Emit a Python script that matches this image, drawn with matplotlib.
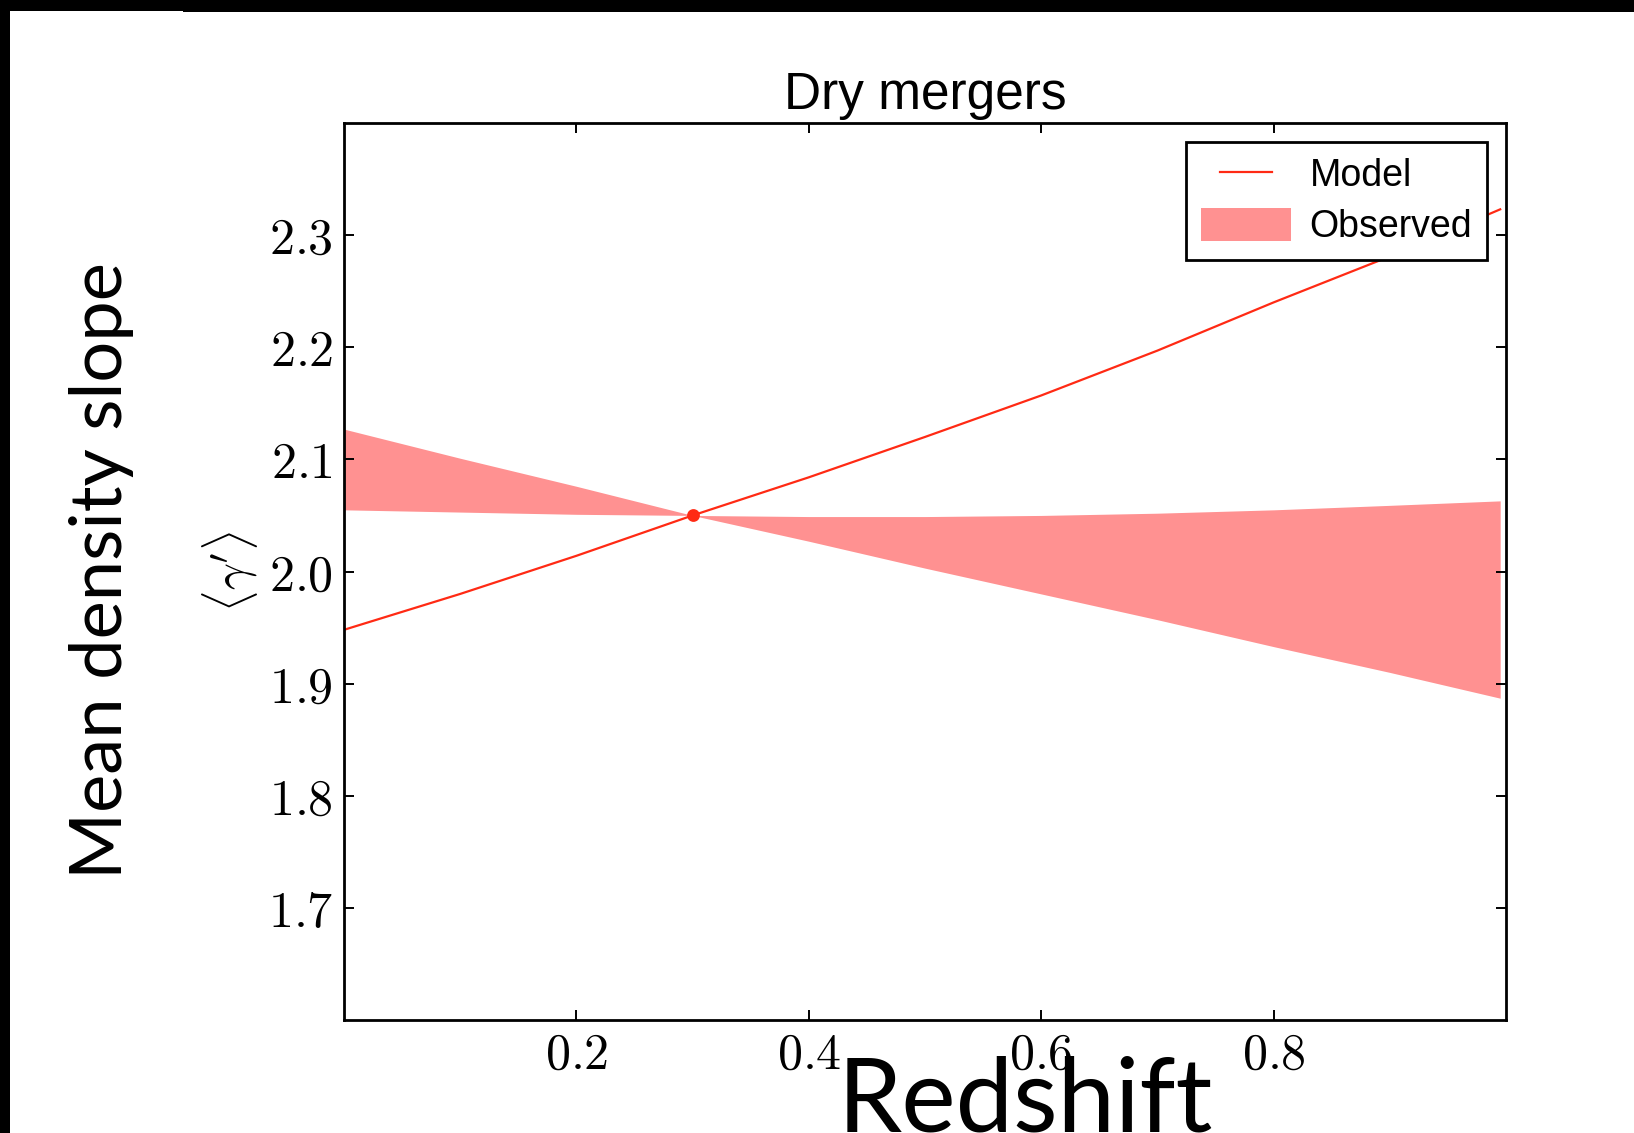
import matplotlib
matplotlib.use("Agg")
import matplotlib.pyplot as plt
from matplotlib.patches import Rectangle
from matplotlib.lines import Line2D
from matplotlib.legend_handler import HandlerLine2D

plt.rcParams['mathtext.fontset'] = 'cm'

# redshift grid and curves
z = [0.0, 0.1, 0.2, 0.3, 0.4, 0.5, 0.6, 0.7, 0.8, 0.9, 0.995]
model = [1.948, 1.980, 2.014, 2.050, 2.084, 2.120, 2.157, 2.197, 2.240, 2.281, 2.323]
obs_edge_a = [2.127, 2.101, 2.076, 2.050, 2.027, 2.003, 1.980, 1.957, 1.933, 1.910, 1.887]
obs_edge_b = [2.055, 2.053, 2.051, 2.050, 2.049, 2.049, 2.050, 2.052, 2.055, 2.059, 2.063]
pivot_z = [0.3]
pivot_g = [2.05]

xticks = [0.2, 0.4, 0.6, 0.8]
yticks = [1.7, 1.8, 1.9, 2.0, 2.1, 2.2, 2.3]


class ShortLine(HandlerLine2D):
    # legend line a bit shorter than the patch, like the old plot
    def create_artists(self, legend, orig, xdescent, ydescent, width, height, fontsize, trans):
        inset = 0.21*width
        return super().create_artists(legend, orig, xdescent - inset, ydescent,
                                      width - 2*inset, height, fontsize, trans)


W, H = 1634, 1133
fig = plt.figure(figsize=(W/200, H/200), dpi=200)
ax = fig.add_axes([344/W, 1-1020/H, 1162/W, 897/H])

ax.fill_between(z, obs_edge_a, obs_edge_b, color='red', alpha=0.43, lw=0, label='Observed')
ax.plot(z, model, color='#ff2a14', lw=0.8, label='Model')
ax.plot(pivot_z, pivot_g, 'o', color='#ff2a14', ms=3.6)

ax.set_xlim(0, 1.0)
ax.set_ylim(1.6, 2.4)
ax.set_xticks(xticks)
ax.set_xticklabels(['$%.1f$' % t for t in xticks], fontsize=18)
ax.set_yticks(yticks)
ax.set_yticklabels(['$%.1f$' % t for t in yticks], fontsize=18)
ax.tick_params(direction='in', length=3.6, width=0.7, top=True, right=True, pad=4)
for s in ax.spines.values():
    s.set_linewidth(1.0)

ax.set_ylabel(r'$\langle\gamma^\prime\rangle$', fontsize=17)
ax.yaxis.set_label_coords(-0.072, 0.5)
ax.set_title('Dry mergers', fontsize=18.5, family='Liberation Sans', pad=5)

h, l = ax.get_legend_handles_labels()
leg = ax.legend(h[::-1], l[::-1], loc='upper right', fancybox=False,
                edgecolor='black', framealpha=1, borderaxespad=0.5, handlelength=2.4,
                handleheight=1.0, handletextpad=0.5, labelspacing=0.35,
                prop={'family': 'Liberation Sans', 'size': 13.5},
                handler_map={Line2D: ShortLine()})
leg.get_frame().set_linewidth(1.0)

# slide overlay
fig.text(102/W, 1-571/H, 'Mean density slope', rotation=90, ha='center', va='center',
         fontsize=26, family='Lato', color='black')
fig.text(1025/W, 1/H, 'Redshift', ha='center', va='baseline', fontsize=37,
         family='Lato', color='black')

# black slide borders
fig.add_artist(Rectangle((0, 1-11/H), 1, 11/H, transform=fig.transFigure, color='black', lw=0))
fig.add_artist(Rectangle((183/W, 1-12/H), 1, 12/H, transform=fig.transFigure, color='black', lw=0))
fig.add_artist(Rectangle((0, 0), 10/W, 1, transform=fig.transFigure, color='black', lw=0))

fig.savefig('out.png', dpi=200)
